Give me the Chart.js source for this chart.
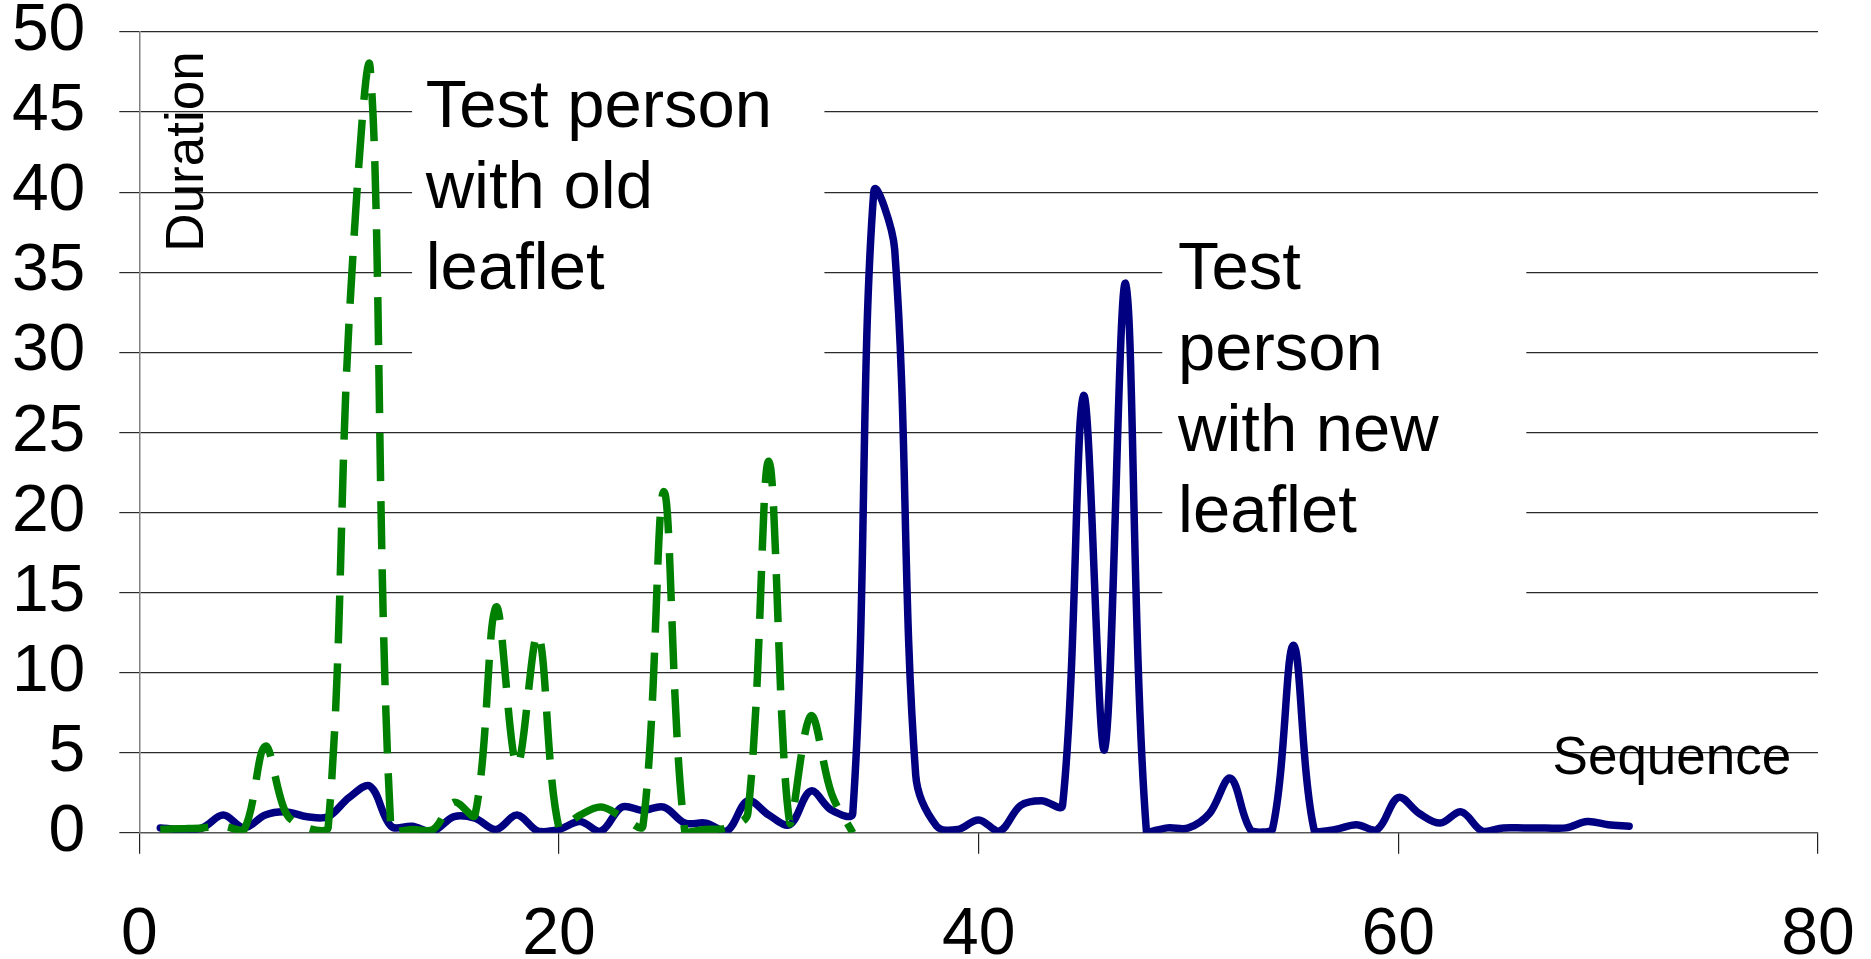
<!DOCTYPE html>
<html>
<head>
<meta charset="utf-8">
<script src="https://cdn.jsdelivr.net/npm/chart.js@4/dist/chart.umd.min.js"></script>
<style>
  html, body { margin: 0; padding: 0; background: #fff; }
  #wrap { width: 1871px; height: 959px; }
</style>
</head>
<body>
<div id="wrap"><canvas id="c" width="1871" height="959"></canvas></div>
<script>
// ---- data ----
const seqOld = [1,2,3,4,5,6,7,8,9,10,11,12,13,14,15,16,17,18,19,20,21,22,23,24,25,26,27,28,29,30,31,32,33,34];
const durationOld = [0.2,0.25,0.3,0.4,0.2,5.4,1.2,0.3,0.3,32,47.8,0.0,0.2,0.2,1.9,1.1,14.1,4.2,12.4,0.3,
                     1.1,1.6,1.0,0.4,21.3,0.0,0.2,0.3,1.2,23.2,0.6,7.3,2.4,0.0];

const seqNew = [1,2,3,4,5,6,7,8,9,10,11,12,13,14,15,16,17,18,19,20,21,22,23,24,25,26,27,28,29,30,
                31,32,33,34,35,36,37,38,39,40,41,42,43,44,45,46,47,48,49,50,51,52,53,54,55,56,57,58,59,60,
                61,62,63,64,65,66,67,68,69,70,71];
const durationNew = [0.3,0.2,0.3,1.1,0.3,1.1,1.3,1.0,1.0,2.2,2.9,0.4,0.4,0.1,1.0,0.9,0.2,1.1,0.1,0.2,
                     0.7,0.1,1.6,1.4,1.6,0.6,0.6,0.1,2.0,1.1,0.5,2.6,1.4,1.2,40.0,36.4,3.6,0.4,0.2,0.8,
                     0.1,1.7,2.0,1.7,27.3,5.2,34.3,0.0,0.3,0.3,1.2,3.4,0.1,0.2,11.7,0.1,0.2,0.5,0.2,2.2,
                     1.2,0.6,1.3,0.1,0.3,0.3,0.3,0.3,0.7,0.5,0.4];

const xTicks = [0, 20, 40, 60, 80];
const yTicks = [0, 5, 10, 15, 20, 25, 30, 35, 40, 45, 50];

const labelOld = ['Test person', 'with old', 'leaflet'];
const labelNew = ['Test', 'person', 'with new', 'leaflet'];
const xTitle = 'Sequence';
const yTitle = 'Duration';

// ---- annotation placement (in data units) ----
const notes = [
  { lines: labelOld, box: [13.0, 32.65, 48.3, 28.3], at: [13.65, 44.04] },
  { lines: labelNew, box: [48.75, 66.1, 38.6, 13.3], at: [49.5, 33.98] }
];
const FONT = '"Liberation Sans", Arial, Helvetica, sans-serif';

const notesPlugin = {
  id: 'notes',
  beforeDatasetsDraw(chart) {
    const { ctx, scales } = chart;
    const x = scales.x, y = scales.y;
    ctx.save();
    notes.forEach(n => {
      const l = x.getPixelForValue(n.box[0]), r = x.getPixelForValue(n.box[1]);
      const t = y.getPixelForValue(n.box[2]), b = y.getPixelForValue(n.box[3]);
      ctx.fillStyle = '#ffffff';
      ctx.fillRect(l, t, r - l, b - t);
      ctx.fillStyle = '#000000';
      ctx.font = '67px ' + FONT;
      ctx.textAlign = 'left';
      ctx.textBaseline = 'alphabetic';
      const tx = x.getPixelForValue(n.at[0]);
      const ty = y.getPixelForValue(n.at[1]);
      n.lines.forEach((s, i) => ctx.fillText(s, tx, ty + i * 81));
    });
    // axis titles placed inside the plot like the original
    ctx.fillStyle = '#000000';
    ctx.font = '53px ' + FONT;
    ctx.textAlign = 'left';
    ctx.textBaseline = 'alphabetic';
    ctx.fillText(xTitle, x.getPixelForValue(67.35), y.getPixelForValue(3.67));
    ctx.save();
    ctx.translate(x.getPixelForValue(2.32), y.getPixelForValue(42.54));
    ctx.rotate(-Math.PI / 2);
    ctx.textAlign = 'center';
    ctx.textBaseline = 'middle';
    ctx.fillText(yTitle, 0, 0);
    ctx.restore();
    ctx.restore();
  }
};

const toPoints = (xs, ys) => xs.map((v, i) => ({ x: v, y: ys[i] }));

new Chart(document.getElementById('c'), {
  type: 'line',
  data: {
    datasets: [
      {
        label: 'Old leaflet',
        data: toPoints(seqOld, durationOld),
        borderColor: '#008000',
        borderWidth: 7.5,
        borderDash: [48, 20],
        borderCapStyle: 'butt',
        borderJoinStyle: 'round',
        tension: 0.35,
        pointRadius: 0,
        fill: false
      },
      {
        label: 'New leaflet',
        data: toPoints(seqNew, durationNew),
        borderColor: '#000080',
        borderWidth: 7.5,
        borderCapStyle: 'round',
        borderJoinStyle: 'round',
        tension: 0.35,
        pointRadius: 0,
        fill: false
      }
    ]
  },
  options: {
    responsive: false,
    devicePixelRatio: 1,
    animation: false,
    layout: { padding: { top: 32, right: 53, left: 0, bottom: 0 } },
    plugins: { legend: { display: false }, tooltip: { enabled: false } },
    scales: {
      x: {
        type: 'linear',
        min: xTicks[0],
        max: xTicks[xTicks.length - 1],
        afterBuildTicks(scale) { scale.ticks = xTicks.map(v => ({ value: v })); },
        afterFit(scale) { scale.height = 126.3; scale.paddingLeft = 0; scale.paddingRight = 0; },
        grid: { drawOnChartArea: false, drawTicks: true, tickLength: 21, color: '#222222', lineWidth: 1.2 },
        border: { display: true, color: '#555555', width: 1.2 },
        ticks: { color: '#000000', font: { family: FONT, size: 66 }, padding: 42, maxRotation: 0, autoSkip: false }
      },
      y: {
        type: 'linear',
        min: yTicks[0],
        max: yTicks[yTicks.length - 1],
        afterBuildTicks(scale) { scale.ticks = yTicks.map(v => ({ value: v })); },
        afterFit(scale) { scale.width = 139.3; scale.paddingTop = 0; scale.paddingBottom = 0; },
        grid: { drawOnChartArea: true, drawTicks: true, tickLength: 20, color: '#2a2a2a', lineWidth: 1.2 },
        border: { display: true, color: '#808080', width: 1.5 },
        ticks: { color: '#000000', font: { family: FONT, size: 66 }, padding: 34, autoSkip: false }
      }
    }
  },
  plugins: [notesPlugin]
});
</script>
</body>
</html>
